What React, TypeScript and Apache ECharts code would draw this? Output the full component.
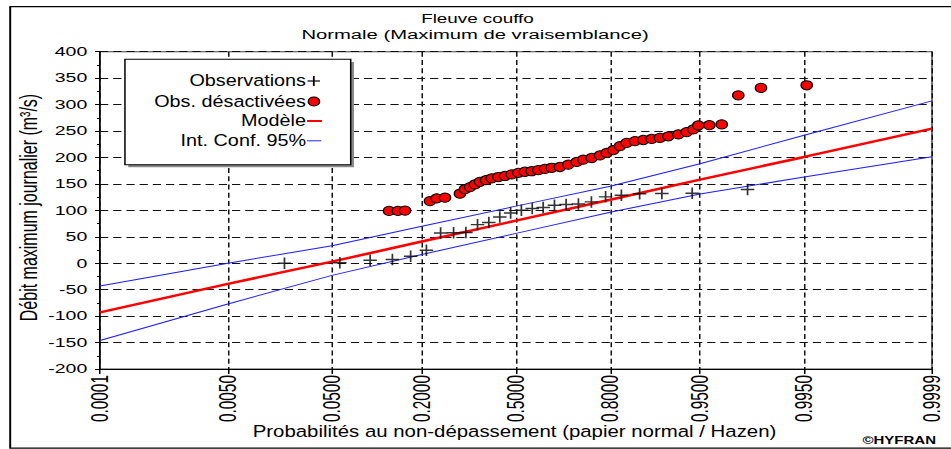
import React, { useEffect, useRef } from 'react';
import * as echarts from 'echarts';

// Non-exceedance probabilities shown on the normal-probability axis
const tickProbs = [0.0001, 0.005, 0.05, 0.2, 0.5, 0.8, 0.95, 0.995, 0.9999];
const tickLabels = ['0.0001', '0.0050', '0.0500', '0.2000', '0.5000', '0.8000', '0.9500', '0.9950', '0.9999'];

// Observations (+): reduced normal variate and discharge (m3/s)
const obsZ = [-2.07, -1.575, -1.304, -1.105, -0.942, -0.801, -0.674, -0.558, -0.448, -0.344, -0.243, -0.145, -0.048,
  0.048, 0.145, 0.243, 0.344, 0.448, 0.558, 0.674, 0.801, 0.942, 1.105, 1.304, 1.575, 2.07];
const obsQ = [0, 1, 5.5, 7, 13, 24.5, 57, 57.5, 58, 73, 77, 87.5, 95,
  100, 103.5, 105.5, 109.5, 111, 112, 116, 125.5, 128.5, 131.5, 132, 132.5, 139.5];

// Deactivated observations (red dots)
const disZ = [-1.135, -1.055, -0.992, -0.769, -0.709, -0.635, -0.501, -0.456, -0.411, -0.367, -0.322, -0.268, -0.217,
  -0.158, -0.098, -0.038, 0.021, 0.08, 0.14, 0.199, 0.259, 0.319, 0.393, 0.468, 0.543, 0.602, 0.677, 0.751, 0.811,
  0.87, 0.93, 0.99, 1.064, 1.138, 1.213, 1.287, 1.362, 1.451, 1.526, 1.585, 1.63, 1.728, 1.839, 1.987, 2.19, 2.599];
const disQ = [99, 99, 99.5, 117.5, 122.5, 124, 131.5, 140, 144, 149, 154, 157, 160.5,
  163, 165, 168, 171, 173, 174, 176, 178.5, 180.5, 182, 186.5, 191.5, 196, 199, 204, 208.5,
  214, 221.5, 227.5, 231, 233, 235, 237, 240, 243.5, 248, 253, 260.5, 261, 262.5, 317.5, 331.5, 336.5];

// Fitted model and 95% confidence bounds, read at the tick probabilities
const modelQ = [-93, -39, 3, 41, 80.5, 120, 158, 201, 254.5];
const ciUpperQ = [-43, 0, 33, 70, 108, 145.5, 188, 242, 307];
const ciLowerQ = [-146, -77, -23, 16.5, 56.5, 96.5, 131, 163, 201.5];

function probit(p: number): number {
  const a = [-3.969683028665376e1, 2.209460984245205e2, -2.759285104469687e2, 1.38357751867269e2, -3.066479806614716e1, 2.506628277459239];
  const b = [-5.447609879822406e1, 1.615858368580409e2, -1.556989798598866e2, 6.680131188771972e1, -1.328068155288572e1];
  const c = [-7.784894002430293e-3, -3.223964580411365e-1, -2.400758277161838, -2.549671875506165, 4.374664141464968, 2.938163982698783];
  const d = [7.784695709041462e-3, 3.224671290700398e-1, 2.445134137142996, 3.754408661907416];
  const pl = 0.02425;
  if (p < pl) {
    const q = Math.sqrt(-2 * Math.log(p));
    return (((((c[0] * q + c[1]) * q + c[2]) * q + c[3]) * q + c[4]) * q + c[5]) / ((((d[0] * q + d[1]) * q + d[2]) * q + d[3]) * q + 1);
  }
  if (p <= 1 - pl) {
    const q = p - 0.5;
    const r = q * q;
    return ((((((a[0] * r + a[1]) * r + a[2]) * r + a[3]) * r + a[4]) * r + a[5]) * q) / (((((b[0] * r + b[1]) * r + b[2]) * r + b[3]) * r + b[4]) * r + 1);
  }
  return -probit(1 - p);
}

const tickZ = tickProbs.map(probit);
const FONT = "'Liberation Sans', Arial, sans-serif";

function zip(xs: number[], ys: number[]) {
  return xs.map((x, i) => [x, ys[i]]);
}

function legendText(text: string, y: number) {
  return {
    type: 'text', x: 204, y, scaleX: 0.8, z: 101,
    style: { text, fill: '#000', fontSize: 16.5, fontFamily: FONT, align: 'right', textAlign: 'right', verticalAlign: 'middle', textVerticalAlign: 'middle' },
  };
}

export default function App() {
  const ref = useRef<HTMLDivElement>(null);
  useEffect(() => {
    const chart = echarts.init(ref.current!, null, { renderer: 'svg' });
    const option: any = {
      animation: false,
      backgroundColor: '#fff',
      grid: { left: 66.67, top: 51.7, width: 554.67, height: 317.3, show: true, borderColor: '#444', borderWidth: 1, backgroundColor: 'transparent' },
      xAxis: {
        type: 'value', min: tickZ[0], max: tickZ[tickZ.length - 1],
        axisLine: { onZero: false, lineStyle: { color: '#000', width: 1 } },
        axisTick: { show: true, length: 5, customValues: tickZ, lineStyle: { color: '#000' } },
        axisLabel: {
          customValues: tickZ, rotate: 90, margin: 6, fontSize: 15.4, fontFamily: FONT, color: '#000',
          formatter: (v: number) => {
            let best = 0;
            tickZ.forEach((t, i) => { if (Math.abs(t - v) < Math.abs(tickZ[best] - v)) best = i; });
            return tickLabels[best];
          },
        },
        splitLine: { show: true, lineStyle: { color: '#111', width: 1, type: [5, 3.3] } },
      },
      yAxis: {
        type: 'value', min: -200, max: 400, interval: 50,
        axisLine: { show: true, onZero: false, lineStyle: { color: '#000', width: 1 } },
        axisTick: { show: true, length: 3.3, lineStyle: { color: '#000' } },
        minorTick: { show: true, splitNumber: 2, length: 2, lineStyle: { color: '#000' } },
        axisLabel: { margin: 8.5, fontSize: 13, fontFamily: FONT, color: '#000' },
        splitLine: { show: true, lineStyle: { color: '#111', width: 1.2, type: [5.5, 3.3] } },
      },
      series: [
        { name: 'Int. Conf. 95% sup', type: 'line', data: zip(tickZ, ciUpperQ), showSymbol: false, lineStyle: { color: '#1f1fff', width: 1 }, z: 3 },
        { name: 'Int. Conf. 95% inf', type: 'line', data: zip(tickZ, ciLowerQ), showSymbol: false, lineStyle: { color: '#1f1fff', width: 1 }, z: 3 },
        { name: 'Modèle', type: 'line', data: zip(tickZ, modelQ), showSymbol: false, lineStyle: { color: '#ff0000', width: 2.5 }, z: 4 },
        {
          name: 'Observations', type: 'scatter', data: zip(obsZ, obsQ), symbol: 'path://M0,5H10M5,0V10', symbolSize: [9, 11.5],
          itemStyle: { color: 'rgba(0,0,0,0)', borderColor: '#000', borderWidth: 1.3 }, z: 5,
        },
        {
          name: 'Obs. désactivées', type: 'scatter', data: zip(disZ, disQ), symbol: 'circle', symbolSize: [7.6, 9.2],
          itemStyle: { color: '#ff0000', borderColor: '#000', borderWidth: 0.9, opacity: 1 }, z: 6,
        },
      ],
      graphic: [
        { type: 'rect', z: 0, shape: { x: 6.8, y: 6.7, width: 700, height: 441.5 }, style: { fill: 'none', stroke: '#000', lineWidth: 1.3 } },
        { type: 'text', x: 318.3, y: 18.3, scaleX: 0.93, style: { text: 'Fleuve couffo', fill: '#000', fontSize: 13.5, fontFamily: FONT, align: 'center', textAlign: 'center', verticalAlign: 'middle', textVerticalAlign: 'middle' } },
        { type: 'text', x: 316.7, y: 34.5, style: { text: 'Normale (Maximum de vraisemblance)', fill: '#000', fontSize: 13.5, fontFamily: FONT, align: 'center', textAlign: 'center', verticalAlign: 'middle', textVerticalAlign: 'middle' } },
        { type: 'text', x: 19.5, y: 207.5, rotation: Math.PI / 2, style: { text: 'Débit maximum journalier (m³/s)', fill: '#000', fontSize: 16, fontFamily: FONT, align: 'center', textAlign: 'center', verticalAlign: 'middle', textVerticalAlign: 'middle' } },
        { type: 'text', x: 343, y: 431, scaleX: 0.8, style: { text: 'Probabilités au non-dépassement (papier normal / Hazen)', fill: '#000', fontSize: 17, fontFamily: FONT, align: 'center', textAlign: 'center', verticalAlign: 'middle', textVerticalAlign: 'middle' } },
        { type: 'text', x: 624, y: 440.3, style: { text: '©HYFRAN', fill: '#000', fontSize: 10, fontWeight: 'bold', fontFamily: FONT, align: 'right', textAlign: 'right', verticalAlign: 'middle', textVerticalAlign: 'middle' } },
        // legend
        { type: 'rect', z: 99, shape: { x: 85.5, y: 61.9, width: 150.5, height: 105.4 }, style: { fill: '#8a8a8a' } },
        { type: 'rect', z: 100, shape: { x: 83.3, y: 59.3, width: 150.5, height: 105.4 }, style: { fill: '#fff', stroke: '#000', lineWidth: 1 } },
        legendText('Observations', 81),
        legendText('Obs. désactivées', 101.5),
        legendText('Modèle', 121),
        legendText('Int. Conf. 95%', 140.8),
        { type: 'line', z: 101, shape: { x1: 205, y1: 81, x2: 213.3, y2: 81 }, style: { stroke: '#000', lineWidth: 1.2 } },
        { type: 'line', z: 101, shape: { x1: 209.2, y1: 76, x2: 209.2, y2: 86 }, style: { stroke: '#000', lineWidth: 1.2 } },
        { type: 'ellipse', z: 101, shape: { cx: 209.3, cy: 101.5, rx: 3.8, ry: 4.5 }, style: { fill: '#ff0000', stroke: '#000', lineWidth: 0.9 } },
        { type: 'line', z: 101, shape: { x1: 204.7, y1: 121, x2: 214.7, y2: 121 }, style: { stroke: '#ff0000', lineWidth: 2 } },
        { type: 'line', z: 101, shape: { x1: 204.7, y1: 140.8, x2: 214.2, y2: 140.8 }, style: { stroke: '#1f1fff', lineWidth: 1 } },
      ],
    };
    chart.setOption(option);
    return () => chart.dispose();
  }, []);
  return (
    <div
      ref={ref}
      style={{ position: 'absolute', left: 0, top: 0, width: 634, height: 449, transform: 'scaleX(1.5)', transformOrigin: '0 0' }}
    />
  );
}
